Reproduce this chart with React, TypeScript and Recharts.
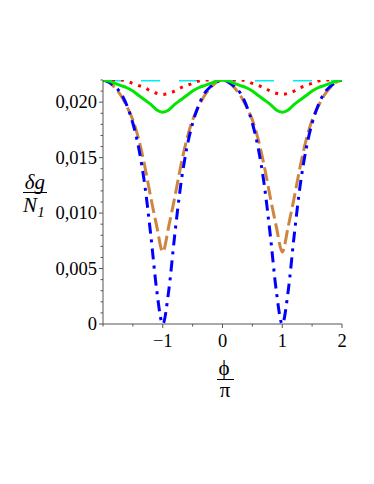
import React from "react";
import { LineChart, Line, XAxis, YAxis } from "recharts";

// phi / pi, step 0.1
const phi = [
  -2, -1.9, -1.8, -1.7, -1.6, -1.5, -1.4, -1.3, -1.2, -1.1, -1, -0.9, -0.8, -0.7, -0.6, -0.5, -0.4, -0.3, -0.2, -0.1, 0,
  0.1, 0.2, 0.3, 0.4, 0.5, 0.6, 0.7, 0.8, 0.9, 1, 1.1, 1.2, 1.3, 1.4, 1.5, 1.6, 1.7, 1.8, 1.9, 2,
];

const blueVals = [
  0.022, 0.0218, 0.0214, 0.0208, 0.0197, 0.0181, 0.0158, 0.0125, 0.008, 0.003, 0, 0.003, 0.008, 0.0125, 0.0158, 0.0181,
  0.0197, 0.0208, 0.0214, 0.0218, 0.022, 0.0218, 0.0214, 0.0208, 0.0197, 0.0181, 0.0158, 0.0125, 0.008, 0.003, 0, 0.003,
  0.008, 0.0125, 0.0158, 0.0181, 0.0197, 0.0208, 0.0214, 0.0218, 0.022,
];

const orangeVals = [
  0.022, 0.0218, 0.0213, 0.0206, 0.0196, 0.0184, 0.0166, 0.0142, 0.0114, 0.0088, 0.0065, 0.0088, 0.0114, 0.0142, 0.0166,
  0.0184, 0.0196, 0.0206, 0.0213, 0.0218, 0.022, 0.0218, 0.0213, 0.0206, 0.0196, 0.0184, 0.0166, 0.0142, 0.0114, 0.0088,
  0.0065, 0.0088, 0.0114, 0.0142, 0.0166, 0.0184, 0.0196, 0.0206, 0.0213, 0.0218, 0.022,
];

const greenVals = [
  0.022, 0.0219, 0.0217, 0.0215, 0.0213, 0.021, 0.0206, 0.0202, 0.0198, 0.0193, 0.0191, 0.0193, 0.0198, 0.0202, 0.0206,
  0.021, 0.0213, 0.0215, 0.0217, 0.0219, 0.022, 0.0219, 0.0217, 0.0215, 0.0213, 0.021, 0.0206, 0.0202, 0.0198, 0.0193,
  0.0191, 0.0193, 0.0198, 0.0202, 0.0206, 0.021, 0.0213, 0.0215, 0.0217, 0.0219, 0.022,
];

const redVals = [
  0.022, 0.022, 0.022, 0.022, 0.0219, 0.0217, 0.0215, 0.0213, 0.021, 0.0208, 0.0207, 0.0208, 0.021, 0.0213, 0.0215, 0.0217,
  0.0219, 0.022, 0.022, 0.022, 0.022, 0.022, 0.022, 0.022, 0.0219, 0.0217, 0.0215, 0.0213, 0.021, 0.0208, 0.0207, 0.0208,
  0.021, 0.0213, 0.0215, 0.0217, 0.0219, 0.022, 0.022, 0.022, 0.022,
];

const cyanPhi = [-2, 2];
const cyanVals = [0.022, 0.022];

const xTicks = [-2, -1.5, -1, -0.5, 0, 0.5, 1, 1.5, 2];
const xMajor = [-1, 0, 1, 2];
const xLabels = ["\u22121", "0", "1", "2"];

const yTicks = [
  0, 0.001, 0.002, 0.003, 0.004, 0.005, 0.006, 0.007, 0.008, 0.009, 0.01, 0.011, 0.012, 0.013, 0.014, 0.015, 0.016, 0.017,
  0.018, 0.019, 0.02, 0.021, 0.022,
];
const yMajor = [0, 0.005, 0.01, 0.015, 0.02];
const yLabels = ["0", "0,005", "0,010", "0,015", "0,020"];

const data = phi.map((p, i) => ({
  phi: p,
  blue: blueVals[i],
  orange: orangeVals[i],
  green: greenVals[i],
  red: redVals[i],
}));
const cyanData = cyanPhi.map((p, i) => ({ phi: p, cyan: cyanVals[i] }));

const FONT = "'Liberation Serif', 'Times New Roman', serif";
const AXIS = "#555";

const YTick = ({ x, y, payload }: any) => {
  const idx = yMajor.indexOf(payload.value);
  const len = idx >= 0 ? 4 : 2.5;
  return (
    <g>
      <line x1={x} x2={x - len} y1={y} y2={y} stroke={AXIS} strokeWidth={1} />
      {idx >= 0 && (
        <text x={x - 6} y={y} textAnchor="end" dominantBaseline="central" fontFamily={FONT} fontSize={18.5} fill="#000">
          {yLabels[idx]}
        </text>
      )}
    </g>
  );
};

const XTick = ({ x, y, payload }: any) => {
  const idx = xMajor.indexOf(payload.value);
  const len = idx >= 0 ? 4 : 2.5;
  return (
    <g>
      <line x1={x} x2={x} y1={y} y2={y + len} stroke={AXIS} strokeWidth={1} />
      {idx >= 0 && (
        <text x={x} y={y + 17} textAnchor="middle" dominantBaseline="central" fontFamily={FONT} fontSize={18.5} fill="#000">
          {xLabels[idx]}
        </text>
      )}
    </g>
  );
};

export default function App() {
  return (
    <div style={{ position: "relative", width: 374, height: 484, background: "#fff" }}>
      <style>{`body{margin:0}`}</style>
      <LineChart width={374} height={484} data={data} margin={{ top: 80, left: 102, right: 32, bottom: 159 }}>
        <XAxis
          dataKey="phi"
          type="number"
          domain={[-2, 2]}
          ticks={xTicks}
          interval={0}
          height={1}
          tickSize={0}
          tickMargin={0}
          tickLine={false}
          tick={<XTick />}
          stroke={AXIS}
          allowDataOverflow
        />
        <YAxis
          type="number"
          domain={[0, 0.022]}
          ticks={yTicks}
          interval={0}
          width={1}
          tickSize={0}
          tickMargin={0}
          tickLine={false}
          tick={<YTick />}
          stroke={AXIS}
          allowDataOverflow
        />
        <Line data={cyanData} dataKey="cyan" stroke="#00f0f0" strokeWidth={3} strokeDasharray="19 19" dot={false} isAnimationActive={false} />
        <Line dataKey="orange" type="monotone" stroke="#cd853f" strokeWidth={3} strokeDasharray="14 5" dot={false} isAnimationActive={false} />
        <Line dataKey="blue" type="monotone" stroke="#0000ff" strokeWidth={3} strokeDasharray="11 6 3 6" dot={false} isAnimationActive={false} />
        <Line dataKey="red" type="monotone" stroke="#ff0000" strokeWidth={3} strokeDasharray="3 6" dot={false} isAnimationActive={false} />
        <Line dataKey="green" type="monotone" stroke="#00e600" strokeWidth={3} dot={false} isAnimationActive={false} />
      </LineChart>
      <svg width={374} height={484} style={{ position: "absolute", left: 0, top: 0, pointerEvents: "none" }}>
        <g fontFamily={FONT} fill="#000">
          <text x={35} y={182} textAnchor="middle" dominantBaseline="central" fontSize={21} fontStyle="italic">
            δg
          </text>
          <line x1={23} x2={47} y1={192.5} y2={192.5} stroke="#000" strokeWidth={1} />
          <text x={30} y={205} textAnchor="middle" dominantBaseline="central" fontSize={21} fontStyle="italic">
            N
          </text>
          <text x={41} y={212} textAnchor="middle" dominantBaseline="central" fontSize={15} fontStyle="italic">
            1
          </text>
          <text x={224} y={368} textAnchor="middle" dominantBaseline="central" fontSize={21}>
            ϕ
          </text>
          <line x1={217} x2={234} y1={379.5} y2={379.5} stroke="#000" strokeWidth={1} />
          <text x={225} y={390} textAnchor="middle" dominantBaseline="central" fontSize={21}>
            π
          </text>
        </g>
      </svg>
    </div>
  );
}
